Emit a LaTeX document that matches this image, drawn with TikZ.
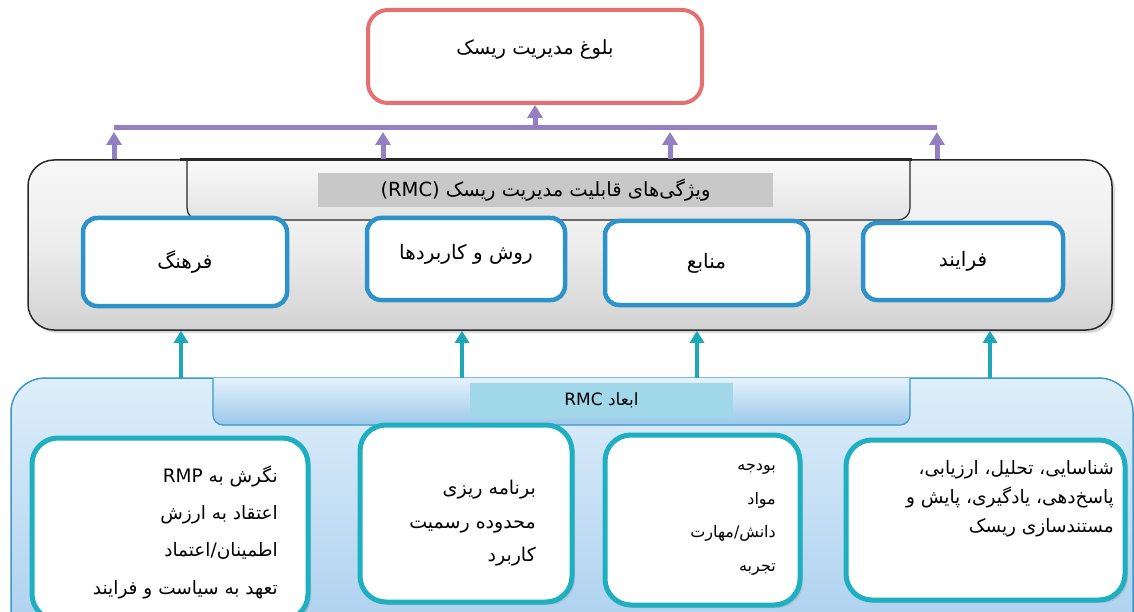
\documentclass[tikz,border=0pt]{standalone}
\usepackage{fontspec}
\TeXXeTstate=1
\newfontfamily\arabicfont[Script=Arabic]{DejaVu Sans}
\usetikzlibrary{arrows.meta,shadows}
\newcommand\fa[1]{\beginR #1\endR}
\definecolor{redc}{RGB}{228,112,112}
\definecolor{purp}{RGB}{146,128,194}
\definecolor{tealarrow}{RGB}{28,168,184}
\definecolor{blueb}{RGB}{44,146,200}
\definecolor{tealb}{RGB}{30,176,192}
\definecolor{grayedge}{RGB}{40,40,40}
\definecolor{titlegray}{RGB}{200,200,200}
\definecolor{titleblue}{RGB}{160,216,234}
\definecolor{bluetop}{RGB}{222,238,250}
\definecolor{bluebot}{RGB}{168,206,238}
\definecolor{blueedge}{RGB}{60,152,205}
\tikzset{
  faText/.style={font=\arabicfont\fontsize{20}{22}\selectfont, text=black},
  goalbox/.style={draw=redc, line width=4pt, rounded corners=20pt, fill=white},
  capbox/.style={draw=blueb, line width=4.5pt, rounded corners=14pt, fill=white},
  dimbox/.style={draw=tealb, line width=5pt, rounded corners=26pt, fill=white,
     drop shadow={shadow xshift=3pt, shadow yshift=-3pt, opacity=0.25}},
  parrow/.style={draw=purp, line width=5pt, -{Triangle[width=15pt,length=13pt]}},
  tarrow/.style={draw=tealarrow, line width=4pt, -{Triangle[width=14pt,length=12pt]}},
  listText/.style={text=black, align=right, anchor=north east, inner sep=0pt},
}
\begin{document}
\begin{tikzpicture}[x=1pt,y=-1pt]
\useasboundingbox (0,0) rectangle (1134,612);

% goal box
\node[goalbox, minimum width=334pt, minimum height=93pt] (goal) at (535,56.5) {};
\node[text=black, font=\arabicfont\fontsize{19.5}{22}\selectfont] (goaltext) at (535,49) {\fa{بلوغ مدیریت ریسک}};

% gray capability band
\node[draw=grayedge, line width=1.5pt, rounded corners=26pt, minimum width=1084pt, minimum height=170pt,
  top color=gray!6, bottom color=gray!35, middle color=gray!14,
  drop shadow={shadow xshift=3pt, shadow yshift=-3pt, opacity=0.3}] (gray) at (570,245) {};
\path[draw=grayedge, line width=1.2pt, rounded corners=12pt, top color=gray!4, bottom color=gray!22]
  (187,160) -- (187,220) -- (910,220) -- (910,160);
\draw[grayedge, line width=3pt] (180,160) -- (912,160);
\node[fill=titlegray, minimum width=455pt, minimum height=34pt, text=black, font=\arabicfont\fontsize{19.5}{22}\selectfont] (captitle) at (545.5,190)
  {\fa{ویژگی‌های قابلیت مدیریت ریسک \beginL(RMC)\endL}};

\node[capbox, minimum width=204pt, minimum height=88pt, faText] (c1) at (185,262) {\fa{فرهنگ}};
\node[capbox, minimum width=198pt, minimum height=82pt] (c2) at (466,259) {};
\node[faText] (c2t) at (466,254) {\fa{روش و کاربردها}};
\node[capbox, minimum width=203pt, minimum height=84pt, faText] (c3) at (706.5,263) {\fa{منابع}};
\node[capbox, minimum width=200pt, minimum height=77pt, faText] (c4) at (963,261.5) {\fa{فرایند}};

% purple connectors
\coordinate (pb1) at (114,128);
\coordinate (pb2) at (383,128);
\coordinate (pb3) at (670,128);
\coordinate (pb4) at (937,128);
\coordinate (pmid) at (535,128);
\draw[draw=purp, line width=5pt] (pb1) -- (pb4);
\draw[parrow] (pb1 |- gray.north) -- ([yshift=-4pt]pb1);
\draw[parrow] (pb2 |- gray.north) -- ([yshift=-4pt]pb2);
\draw[parrow] (pb3 |- gray.north) -- ([yshift=-4pt]pb3);
\draw[parrow] (pb4 |- gray.north) -- ([yshift=-4pt]pb4);
\draw[parrow] (pmid) -- (pmid |- goal.south);

% blue dimension region
\node[draw=blueedge, line width=1.5pt, rounded corners=34pt, minimum width=1122pt, minimum height=280pt,
  top color=bluetop, bottom color=bluebot] (blue) at (572,518) {};
\path[draw=blueedge, line width=1.2pt, rounded corners=10pt, top color=bluetop!80!white, bottom color=bluebot!90!blueb]
  (213,378) -- (213,425) -- (910,425) -- (910,378);
\node[fill=titleblue, minimum width=263pt, minimum height=35pt, faText, font=\arabicfont\fontsize{17}{20}\selectfont] (dimtitle) at (601.5,400.5)
  {\fa{ابعاد \beginL RMC\endL}};

% teal connectors
\coordinate (ta1) at (181,378);
\coordinate (ta2) at (462,378);
\coordinate (ta3) at (697,378);
\coordinate (ta4) at (990,378);
\draw[tarrow] (ta1) -- (ta1 |- gray.south);
\draw[tarrow] (ta2) -- (ta2 |- gray.south);
\draw[tarrow] (ta3) -- (ta3 |- gray.south);
\draw[tarrow] (ta4) -- (ta4 |- gray.south);

% dimension boxes
\node[dimbox, minimum width=276pt, minimum height=182pt] (d1) at (170,529) {};
\node[dimbox, minimum width=212pt, minimum height=177pt] (d2) at (466,513.5) {};
\node[dimbox, minimum width=195pt, minimum height=170pt] (d3) at (702.5,520) {};
\node[dimbox, minimum width=279pt, minimum height=160pt] (d4) at (985.5,520) {};

\node[listText, font=\arabicfont\fontsize{18.5}{37.3}\selectfont] (d1t) at (278,465.5)
  {\fa{نگرش به \beginL RMP\endL}\\ \fa{اعتقاد به ارزش}\\ \fa{اطمینان/اعتماد}\\ \fa{تعهد به سیاست و فرایند}};
\node[listText, font=\arabicfont\fontsize{19}{33.5}\selectfont] (d2t) at (536,480)
  {\fa{برنامه ریزی}\\ \fa{محدوده رسمیت}\\ \fa{کاربرد}};
\node[listText, font=\arabicfont\fontsize{16}{33.7}\selectfont] (d3t) at (776,463.5)
  {\fa{بودجه}\\ \fa{مواد}\\ \fa{دانش/مهارت}\\ \fa{تجربه}};
\node[listText, font=\arabicfont\fontsize{18.5}{29}\selectfont] (d4t) at (1114,460)
  {\fa{شناسایی، تحلیل، ارزیابی،}\\ \fa{پاسخ‌دهی، یادگیری، پایش و}\\ \fa{مستندسازی ریسک}};
\end{tikzpicture}
\end{document}
